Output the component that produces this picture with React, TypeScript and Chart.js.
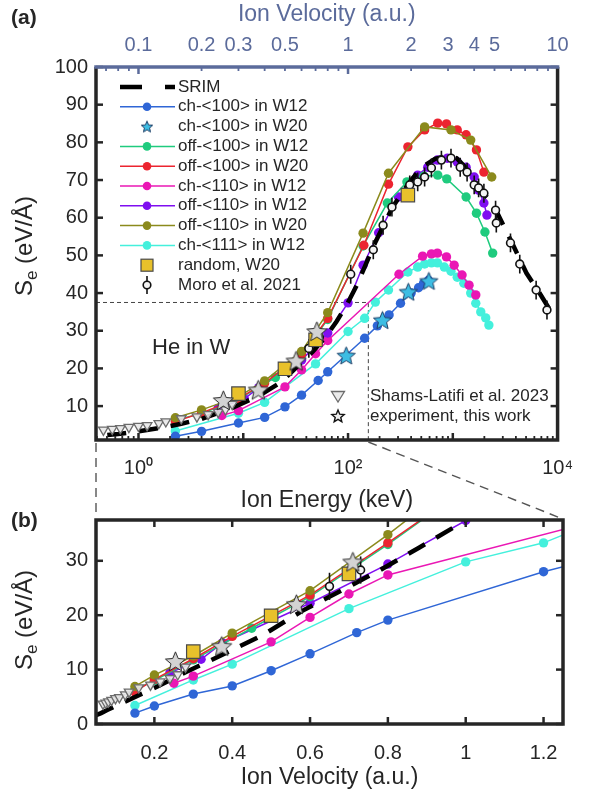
import React, { useEffect, useRef } from 'react';
import { Chart, registerables } from 'chart.js';

Chart.register(...registerables);

const FONT = '"Liberation Sans", Arial, Helvetica, sans-serif';
const INK = '#262626';
const SLATE = '#5b6b9b';

const BLUE = '#2f66d6';
const STAR_CYAN = '#3dbde3';
const GREEN = '#1fcb7e';
const RED = '#ec2430';
const MAGENTA = '#ea17b4';
const PURPLE = '#7f0ef0';
const OLIVE = '#8b8a1c';
const AQUA = '#44f0dc';
const GOLD = '#e8c12b';

// ---- axis limits ----
const V_MIN_A = 0.0627;
const V_MAX_A = 10;
const E_MIN_A = 0.393;
const E_MAX_A = 10000;
const S_MIN_A = 1;
const S_MAX_A = 100;
const V_MIN_B = 0.05;
const V_MAX_B = 1.25;
const S_MIN_B = 0;
const S_MAX_B = 37.5;

// ---- tick labels ----
const TOP_TICKS = [0.1, 0.2, 0.3, 0.5, 1, 2, 3, 4, 5, 10];
const TOP_TICK_LABELS = ['0.1', '0.2', '0.3', '0.5', '1', '2', '3', '4', '5', '10'];
const ENERGY_TICKS = [1, 100, 10000];
const ENERGY_TICK_LABELS = ['10\u2070', '10\u00b2', '10\u2074'];
const Y_A_TICKS = [10, 20, 30, 40, 50, 60, 70, 80, 90, 100];
const Y_B_TICKS = [0, 10, 20, 30];
const X_B_TICKS = [0.2, 0.4, 0.6, 0.8, 1, 1.2];
const X_B_TICK_LABELS = ['0.2', '0.4', '0.6', '0.8', '1', '1.2'];

// ---- data: velocity (a.u.) and stopping Se (eV/Å) ----
const SRIM_V = [0.05, 0.063, 0.08, 0.1, 0.13, 0.16, 0.2, 0.28, 0.38, 0.48, 0.58, 0.68, 0.78, 0.88, 0.98, 1.1, 1.35, 1.63, 2.0, 2.25, 2.6, 3.0, 3.3, 3.6, 4.0, 4.3, 4.9, 5.4, 6.1, 7.1, 8.2, 9.2, 10];
const SRIM_S = [1.6, 2.0, 2.6, 3.3, 4.3, 5.3, 6.6, 9.5, 12.9, 16.4, 20.8, 24.5, 28.3, 32.4, 36.6, 42.0, 53.5, 62.8, 70.0, 73.4, 75.6, 76.5, 75.8, 73.6, 70.2, 67.2, 63.8, 59.0, 53.0, 45.3, 40.0, 35.5, 33.3];

const CH100_W12_V = [0.15, 0.2, 0.3, 0.4, 0.5, 0.6, 0.72, 0.8, 1.2, 1.38, 1.57, 1.78, 2.0, 2.17, 2.29, 2.42];
const CH100_W12_S = [2.0, 3.3, 5.5, 7.0, 9.8, 12.9, 16.8, 19.1, 28.0, 31.3, 34.2, 37.3, 40.0, 41.4, 42.5, 43.4];

const CH100_W20_V = [0.98, 1.46, 1.94, 2.43];
const CH100_W20_S = [23.4, 32.8, 40.3, 43.2];

const OFF100_W12_V = [0.15, 0.2, 0.3, 0.45, 0.6, 0.8, 1.18, 1.54, 1.91, 2.3, 2.68, 2.96, 3.66, 4.1, 4.5, 4.9];
const OFF100_W12_S = [6.3, 8.0, 11.8, 17.6, 23.4, 33.0, 52.5, 63.9, 69.5, 71.0, 71.3, 70.3, 65.5, 61.2, 56.2, 50.6];

const OFF100_W20_V = [0.15, 0.2, 0.3, 0.4, 0.6, 0.8, 1.19, 1.56, 1.93, 2.32, 2.68, 2.95, 3.32, 3.66, 4.1, 4.45];
const OFF100_W20_S = [5.9, 8.2, 12.0, 16.1, 23.7, 33.3, 52.7, 68.9, 78.8, 83.3, 85.1, 84.9, 83.3, 82.0, 78.0, 72.1];

const CH110_W12_V = [0.25, 0.3, 0.5, 0.6, 0.7, 0.8, 1.75, 2.27, 2.5, 2.67, 2.95, 3.21, 3.5, 3.78, 4.07];
const CH110_W12_S = [7.5, 8.8, 15.1, 19.6, 23.9, 27.4, 45.0, 49.8, 50.4, 50.6, 49.6, 47.4, 44.8, 42.1, 39.5];

const OFF110_W12_V = [0.24, 0.32, 0.375, 0.6, 0.8, 1.0, 1.18, 1.4, 1.74, 1.97, 2.15, 2.4, 2.67, 2.98, 3.32, 3.66, 4.0, 4.2, 4.45, 4.6];
const OFF110_W12_S = [9.4, 11.9, 14.9, 22.2, 29.4, 37.4, 47.4, 56.0, 65.5, 69.2, 71.3, 73.4, 75.3, 75.8, 74.8, 73.4, 70.8, 67.3, 63.9, 60.7];

const OFF110_W20_V = [0.15, 0.2, 0.3, 0.4, 0.6, 0.8, 1.18, 1.56, 2.32, 3.1, 3.85, 4.85];
const OFF110_W20_S = [6.9, 9.0, 12.5, 16.7, 24.5, 34.8, 55.9, 71.8, 84.1, 83.3, 80.6, 70.8];

const CH111_W12_V = [0.15, 0.3, 0.4, 0.7, 1.0, 1.2, 1.35, 1.56, 1.93, 2.15, 2.32, 2.5, 2.67, 2.88, 3.1, 3.32, 3.57, 3.85, 4.07, 4.3, 4.54, 4.7];
const CH111_W12_S = [3.4, 8.1, 11.0, 21.2, 29.8, 33.3, 37.6, 40.8, 45.6, 46.9, 47.7, 48.0, 48.0, 46.9, 45.8, 44.2, 42.6, 40.0, 37.3, 35.0, 33.4, 31.5];

const RANDOM_W20_V = [0.3, 0.5, 0.7, 1.93];
const RANDOM_W20_S = [13.3, 19.9, 27.6, 66.0];

const MORO_V = [0.65, 0.73, 1.03, 1.32, 1.47, 1.62, 1.97, 2.15, 2.32, 2.5, 2.79, 3.1, 3.43, 3.7, 4.0, 4.2, 4.45, 5.06, 5.1, 5.96, 6.6, 7.9, 8.9];
const MORO_S = [25.3, 28.3, 45.0, 51.5, 58.0, 62.8, 68.7, 69.5, 70.8, 73.2, 75.3, 75.8, 73.4, 72.1, 68.7, 67.9, 66.5, 62.0, 58.6, 53.3, 47.7, 40.8, 35.5];
const MORO_ERR = [2.5, 2.5, 2.5, 2.5, 2.5, 2.5, 2.5, 2.5, 2.5, 2.5, 2.5, 2.5, 2.5, 2.5, 2.5, 2.5, 2.5, 2.5, 2.5, 2.5, 2.5, 2.5, 2.5];

const SHAMS_V = [0.068, 0.075, 0.082, 0.09, 0.1, 0.11, 0.125, 0.135, 0.16, 0.19, 0.215, 0.24, 0.26, 0.28];
const SHAMS_S = [3.7, 3.9, 4.1, 4.4, 4.7, 4.9, 5.4, 5.9, 6.7, 7.2, 7.8, 8.4, 9.1, 10.5];

const EXP_V = [0.254, 0.373, 0.565, 0.71];
const EXP_S = [11.5, 14.3, 22.0, 29.8];

const LEGEND_LABELS = [
  'SRIM',
  'ch-<100> in W12',
  'ch-<100> in W20',
  'off-<100> in W12',
  'off-<100> in W20',
  'ch-<110> in W12',
  'off-<110> in W12',
  'off-<110> in W20',
  'ch-<111> in W12',
  'random, W20',
  'Moro et al. 2021',
];
const LEGEND2_LABELS = ['Shams-Latifi et al. 2023', 'experiment, this work'];

// ---- helpers ----
const pts = (xs: number[], ys: number[]) => xs.map((x, i) => ({ x, y: ys[i] }));

function makeStar(outer: number, fill: string, stroke: string, lw: number) {
  const size = Math.ceil(outer * 2 + lw * 2 + 2);
  const c = document.createElement('canvas');
  c.width = size;
  c.height = size;
  const ctx = c.getContext('2d')!;
  ctx.translate(size / 2, size / 2 + outer * 0.08);
  ctx.beginPath();
  const inner = outer * 0.45;
  for (let i = 0; i < 10; i++) {
    const r = i % 2 === 0 ? outer : inner;
    const a = -Math.PI / 2 + (i * Math.PI) / 5;
    ctx.lineTo(r * Math.cos(a), r * Math.sin(a));
  }
  ctx.closePath();
  ctx.fillStyle = fill;
  ctx.fill();
  ctx.lineWidth = lw;
  ctx.strokeStyle = stroke;
  ctx.lineJoin = 'miter';
  ctx.stroke();
  return c;
}

function logSteps(min: number, max: number) {
  const out: { v: number; major: boolean }[] = [];
  for (let e = Math.floor(Math.log10(min)); e <= Math.ceil(Math.log10(max)); e++) {
    for (let k = 1; k <= 9; k++) {
      const v = k * Math.pow(10, e);
      if (v >= min * 0.999 && v <= max * 1.001) out.push({ v, major: k === 1 });
    }
  }
  return out;
}

function seg(ctx: CanvasRenderingContext2D, x1: number, y1: number, x2: number, y2: number) {
  ctx.beginPath();
  ctx.moveTo(x1, y1);
  ctx.lineTo(x2, y2);
  ctx.stroke();
}

function drawYTitle(ctx: CanvasRenderingContext2D, cx: number, cy: number) {
  ctx.save();
  ctx.translate(cx, cy);
  ctx.rotate(-Math.PI / 2);
  ctx.fillStyle = INK;
  ctx.textBaseline = 'alphabetic';
  ctx.textAlign = 'left';
  const big = `24px ${FONT}`;
  const small = `17px ${FONT}`;
  ctx.font = big;
  const wS = ctx.measureText('S').width;
  const wRest = ctx.measureText(' (eV/\u00c5)').width;
  ctx.font = small;
  const wE = ctx.measureText('e').width;
  let x = -(wS + wE + wRest) / 2;
  const base = 8;
  ctx.font = big;
  ctx.fillText('S', x, base);
  x += wS;
  ctx.font = small;
  ctx.fillText('e', x, base + 5);
  x += wE;
  ctx.font = big;
  ctx.fillText(' (eV/\u00c5)', x, base);
  ctx.restore();
}

function buildDatasets(xAxisID: string, imgs: any, withW20Stars: boolean) {
  const line = (label: string, xs: number[], ys: number[], color: string, order: number) => ({
    label,
    data: pts(xs, ys),
    xAxisID,
    yAxisID: 'y',
    showLine: true,
    borderColor: color,
    backgroundColor: color,
    borderWidth: 1.5,
    pointRadius: 4.7,
    pointBackgroundColor: color,
    pointBorderColor: color,
    pointBorderWidth: 0,
    clip: 0,
    order,
  });
  const sets: any[] = [
    {
      label: 'experiment, this work',
      data: pts(EXP_V, EXP_S),
      xAxisID,
      yAxisID: 'y',
      showLine: false,
      pointStyle: imgs.starExp,
      pointRadius: 9,
      clip: 0,
      order: 0,
    },
  ];
  if (withW20Stars) {
    sets.push({
      label: 'ch-<100> in W20',
      data: pts(CH100_W20_V, CH100_W20_S),
      xAxisID,
      yAxisID: 'y',
      showLine: false,
      pointStyle: imgs.starCyan,
      pointRadius: 9,
      clip: 0,
      order: 1,
    });
  }
  sets.push(
    {
      label: 'random, W20',
      data: pts(RANDOM_W20_V, RANDOM_W20_S),
      xAxisID,
      yAxisID: 'y',
      showLine: false,
      pointStyle: 'rect',
      pointRadius: 9.5,
      pointBackgroundColor: GOLD,
      pointBorderColor: '#4a4a4a',
      pointBorderWidth: 1.2,
      clip: 0,
      order: 2,
    },
    {
      label: 'Moro et al. 2021',
      data: pts(MORO_V, MORO_S),
      errBars: MORO_ERR,
      xAxisID,
      yAxisID: 'y',
      showLine: false,
      pointStyle: 'circle',
      pointRadius: 3.9,
      pointBackgroundColor: '#f4f4f4',
      pointBorderColor: '#111111',
      pointBorderWidth: 1.6,
      clip: 0,
      order: 3,
    },
    {
      label: 'Shams-Latifi et al. 2023',
      data: pts(SHAMS_V, SHAMS_S),
      xAxisID,
      yAxisID: 'y',
      showLine: false,
      pointStyle: 'triangle',
      pointRotation: 180,
      pointRadius: 5.5,
      pointBackgroundColor: 'rgba(232,232,232,0.9)',
      pointBorderColor: '#6c6c6c',
      pointBorderWidth: 1.3,
      clip: 0,
      order: 4,
    },
    {
      label: 'SRIM',
      data: pts(SRIM_V, SRIM_S),
      xAxisID,
      yAxisID: 'y',
      showLine: true,
      borderColor: '#000000',
      borderWidth: 4.5,
      borderDash: [19, 13],
      borderCapStyle: 'butt',
      pointRadius: 0,
      clip: 0,
      order: 5,
    },
    line('ch-<100> in W12', CH100_W12_V, CH100_W12_S, BLUE, 6),
    line('off-<110> in W20', OFF110_W20_V, OFF110_W20_S, OLIVE, 7),
    line('off-<100> in W20', OFF100_W20_V, OFF100_W20_S, RED, 8),
    line('off-<100> in W12', OFF100_W12_V, OFF100_W12_S, GREEN, 9),
    line('off-<110> in W12', OFF110_W12_V, OFF110_W12_S, PURPLE, 10),
    line('ch-<110> in W12', CH110_W12_V, CH110_W12_S, MAGENTA, 11),
    line('ch-<111> in W12', CH111_W12_V, CH111_W12_S, AQUA, 12),
  );
  return sets;
}

const errBarPlugin = {
  id: 'errBars',
  beforeDatasetDraw(chart: any, args: any) {
    const ds = chart.data.datasets[args.index];
    if (!ds.errBars) return;
    const xs = args.meta.xScale;
    const ys = args.meta.yScale;
    const ca = chart.chartArea;
    const ctx = chart.ctx;
    ctx.save();
    ctx.beginPath();
    ctx.rect(ca.left, ca.top, ca.right - ca.left, ca.bottom - ca.top);
    ctx.clip();
    ctx.strokeStyle = '#111111';
    ctx.lineWidth = 1.6;
    ds.data.forEach((p: any, i: number) => {
      const px = xs.getPixelForValue(p.x);
      seg(ctx, px, ys.getPixelForValue(p.y - ds.errBars[i]), px, ys.getPixelForValue(p.y + ds.errBars[i]));
    });
    ctx.restore();
  },
};

const noGrid = { display: false, drawTicks: false, drawOnChartArea: false };

export default function App() {
  const refA = useRef<HTMLCanvasElement>(null);
  const refB = useRef<HTMLCanvasElement>(null);

  useEffect(() => {
    const imgs = {
      starExp: makeStar(10.5, '#d3d3d3', '#2a2a2a', 1),
      starCyan: makeStar(9.5, STAR_CYAN, '#1d3d66', 1),
    };
    const legStarCyan = makeStar(6, STAR_CYAN, '#1d3d66', 1);
    const legStarExp = makeStar(6.5, '#eeeeee', '#111111', 1.4);

    const tickFont = { family: FONT, size: 20 };
    const titleFont = { family: FONT, size: 23 };

    const panelA = {
      id: 'panelA',
      beforeDatasetsDraw(chart: any) {
        const ctx = chart.ctx;
        const ca = chart.chartArea;
        const px = chart.scales.xv.getPixelForValue(V_MAX_B);
        const py = chart.scales.y.getPixelForValue(S_MAX_B);
        ctx.save();
        ctx.setLineDash([4, 3]);
        ctx.strokeStyle = '#444444';
        ctx.lineWidth = 1;
        ctx.beginPath();
        ctx.moveTo(ca.left, py);
        ctx.lineTo(px, py);
        ctx.lineTo(px, ca.bottom);
        ctx.stroke();
        ctx.restore();
      },
      afterDraw(chart: any) {
        const ctx: CanvasRenderingContext2D = chart.ctx;
        const ca = chart.chartArea;
        const xv = chart.scales.xv;
        const xe = chart.scales.xe;
        const y = chart.scales.y;
        ctx.save();
        ctx.lineCap = 'butt';
        // ticks
        ctx.strokeStyle = INK;
        for (const t of logSteps(E_MIN_A, E_MAX_A)) {
          const p = xe.getPixelForValue(t.v);
          ctx.lineWidth = t.major ? 2.5 : 1.8;
          seg(ctx, p, ca.bottom, p, ca.bottom - (t.major ? 7 : 4));
        }
        ctx.strokeStyle = SLATE;
        for (const t of logSteps(V_MIN_A, V_MAX_A)) {
          const p = xv.getPixelForValue(t.v);
          ctx.lineWidth = t.major ? 2.5 : 1.8;
          seg(ctx, p, ca.top, p, ca.top + (t.major ? 7 : 4));
        }
        ctx.strokeStyle = INK;
        ctx.lineWidth = 2.5;
        for (const t of Y_A_TICKS) {
          const p = y.getPixelForValue(t);
          seg(ctx, ca.left, p, ca.left + 7, p);
          seg(ctx, ca.right, p, ca.right - 7, p);
        }
        // box
        ctx.lineWidth = 3.5;
        ctx.strokeStyle = INK;
        ctx.beginPath();
        ctx.moveTo(ca.left, ca.top);
        ctx.lineTo(ca.left, ca.bottom);
        ctx.lineTo(ca.right, ca.bottom);
        ctx.lineTo(ca.right, ca.top);
        ctx.stroke();
        ctx.strokeStyle = SLATE;
        seg(ctx, ca.left - 1.75, ca.top, ca.right + 1.75, ca.top);

        // titles
        drawYTitle(ctx, 24, 246);
        ctx.fillStyle = INK;
        ctx.font = `bold 21px ${FONT}`;
        ctx.textAlign = 'left';
        ctx.textBaseline = 'middle';
        ctx.fillText('(a)', 11, 18);

        // legend
        const LX1 = 120, LX2 = 175, LMX = 147, LTX = 178, LY0 = 87, LDY = 19.8;
        const rowColors = [null, BLUE, null, GREEN, RED, MAGENTA, PURPLE, OLIVE, AQUA];
        LEGEND_LABELS.forEach((lab, i) => {
          const ly = LY0 + i * LDY;
          if (i === 0) {
            ctx.save();
            ctx.setLineDash([22, 23]);
            ctx.strokeStyle = '#000';
            ctx.lineWidth = 4.5;
            seg(ctx, LX1, ly, LX2, ly);
            ctx.restore();
          } else if (i === 2) {
            ctx.drawImage(legStarCyan, LMX - legStarCyan.width / 2, ly - legStarCyan.height / 2);
          } else if (i === 9) {
            ctx.fillStyle = GOLD;
            ctx.strokeStyle = '#4a4a4a';
            ctx.lineWidth = 1.2;
            ctx.fillRect(LMX - 6, ly - 6, 12, 12);
            ctx.strokeRect(LMX - 6, ly - 6, 12, 12);
          } else if (i === 10) {
            ctx.strokeStyle = '#111';
            ctx.lineWidth = 1.6;
            seg(ctx, LMX, ly - 9, LMX, ly + 9);
            ctx.beginPath();
            ctx.arc(LMX, ly, 3.8, 0, Math.PI * 2);
            ctx.fillStyle = '#f4f4f4';
            ctx.fill();
            ctx.stroke();
          } else {
            const c = rowColors[i] as string;
            ctx.strokeStyle = c;
            ctx.lineWidth = 1.5;
            seg(ctx, LX1, ly, LX2, ly);
            ctx.beginPath();
            ctx.arc(LMX, ly, 4.3, 0, Math.PI * 2);
            ctx.fillStyle = c;
            ctx.fill();
          }
          ctx.fillStyle = INK;
          ctx.font = `17px ${FONT}`;
          ctx.textAlign = 'left';
          ctx.textBaseline = 'middle';
          ctx.fillText(lab, LTX, ly);
        });

        // second legend
        const L2X = 338, L2T = 370, L2Y = [396, 416];
        ctx.beginPath();
        ctx.moveTo(L2X - 6.5, L2Y[0] - 4.5);
        ctx.lineTo(L2X + 6.5, L2Y[0] - 4.5);
        ctx.lineTo(L2X, L2Y[0] + 6);
        ctx.closePath();
        ctx.fillStyle = 'rgba(232,232,232,0.9)';
        ctx.fill();
        ctx.strokeStyle = '#6c6c6c';
        ctx.lineWidth = 1.3;
        ctx.stroke();
        ctx.drawImage(legStarExp, L2X - legStarExp.width / 2, L2Y[1] - legStarExp.height / 2);
        ctx.fillStyle = INK;
        ctx.font = `17px ${FONT}`;
        ctx.fillText(LEGEND2_LABELS[0], L2T, L2Y[0]);
        ctx.fillText(LEGEND2_LABELS[1], L2T, L2Y[1]);

        // annotation
        ctx.font = `22px ${FONT}`;
        ctx.fillText('He in W', 152, 348);
        ctx.restore();
      },
    };

    const chartA = new Chart(refA.current as HTMLCanvasElement, {
      type: 'scatter',
      data: { datasets: buildDatasets('xv', imgs, true) as any },
      options: {
        responsive: false,
        animation: false,
        devicePixelRatio: 1,
        events: [],
        layout: { padding: { left: 0, right: 26, top: 1, bottom: 275 } },
        plugins: { legend: { display: false }, tooltip: { enabled: false } },
        scales: {
          xv: {
            type: 'logarithmic',
            axis: 'x',
            position: 'top',
            min: V_MIN_A,
            max: V_MAX_A,
            afterBuildTicks: (s: any) => {
              s.ticks = TOP_TICKS.map((v) => ({ value: v }));
            },
            afterFit: (s: any) => {
              s.height = 66;
            },
            grid: noGrid,
            border: { display: false },
            ticks: {
              color: SLATE,
              font: tickFont,
              padding: 10,
              autoSkip: false,
              maxRotation: 0,
              callback: (v: any) => TOP_TICK_LABELS[TOP_TICKS.indexOf(Number(v))] ?? '',
            },
            title: { display: true, text: 'Ion Velocity (a.u.)', color: SLATE, font: titleFont, padding: 0 },
          },
          xe: {
            type: 'logarithmic',
            axis: 'x',
            position: 'bottom',
            min: E_MIN_A,
            max: E_MAX_A,
            afterBuildTicks: (s: any) => {
              s.ticks = ENERGY_TICKS.map((v) => ({ value: v }));
            },
            afterFit: (s: any) => {
              s.height = 74;
            },
            grid: noGrid,
            border: { display: false },
            ticks: {
              color: INK,
              font: tickFont,
              padding: 16,
              autoSkip: false,
              maxRotation: 0,
              callback: (v: any) => ENERGY_TICK_LABELS[ENERGY_TICKS.indexOf(Number(v))] ?? '',
            },
            title: { display: true, text: 'Ion Energy (keV)', color: INK, font: titleFont, padding: 0 },
          },
          y: {
            type: 'linear',
            position: 'left',
            min: S_MIN_A,
            max: S_MAX_A,
            afterBuildTicks: (s: any) => {
              s.ticks = Y_A_TICKS.map((v) => ({ value: v }));
            },
            afterFit: (s: any) => {
              s.width = 96;
            },
            grid: noGrid,
            border: { display: false },
            ticks: { color: INK, font: tickFont, padding: 8, autoSkip: false, callback: (v: any) => String(v) },
          },
        },
      } as any,
      plugins: [errBarPlugin, panelA],
    });

    const panelB = {
      id: 'panelB',
      afterDraw(chart: any) {
        const ctx: CanvasRenderingContext2D = chart.ctx;
        const ca = chart.chartArea;
        const x = chart.scales.x;
        const y = chart.scales.y;
        ctx.save();
        ctx.lineCap = 'butt';
        ctx.strokeStyle = INK;
        ctx.lineWidth = 2.5;
        for (const t of X_B_TICKS) {
          const p = x.getPixelForValue(t);
          seg(ctx, p, ca.bottom, p, ca.bottom - 7);
          seg(ctx, p, ca.top, p, ca.top + 7);
        }
        for (const t of Y_B_TICKS) {
          const p = y.getPixelForValue(t);
          seg(ctx, ca.left, p, ca.left + 7, p);
          seg(ctx, ca.right, p, ca.right - 7, p);
        }
        ctx.lineWidth = 3.5;
        ctx.strokeRect(ca.left, ca.top, ca.right - ca.left, ca.bottom - ca.top);

        drawYTitle(ctx, 24, 620);
        ctx.fillStyle = INK;
        ctx.font = `bold 21px ${FONT}`;
        ctx.textAlign = 'left';
        ctx.textBaseline = 'middle';
        ctx.fillText('(b)', 11, 521);

        // connectors from panel (a)
        const a: any = chartA;
        if (a && a.chartArea) {
          const aca = a.chartArea;
          const pxa = a.scales.xv.getPixelForValue(V_MAX_B);
          ctx.setLineDash([9, 6]);
          ctx.strokeStyle = '#555555';
          ctx.lineWidth = 1.4;
          seg(ctx, aca.left, aca.bottom + 3, ca.left, ca.top - 2);
          seg(ctx, pxa, aca.bottom + 2, ca.right, ca.top - 1);
        }
        ctx.restore();
      },
    };

    const chartB = new Chart(refB.current as HTMLCanvasElement, {
      type: 'scatter',
      data: { datasets: buildDatasets('x', imgs, false) as any },
      options: {
        responsive: false,
        animation: false,
        devicePixelRatio: 1,
        events: [],
        layout: { padding: { left: 0, right: 26, top: 520, bottom: 0 } },
        plugins: { legend: { display: false }, tooltip: { enabled: false } },
        scales: {
          x: {
            type: 'linear',
            position: 'bottom',
            min: V_MIN_B,
            max: V_MAX_B,
            afterBuildTicks: (s: any) => {
              s.ticks = X_B_TICKS.map((v) => ({ value: v }));
            },
            afterFit: (s: any) => {
              s.height = 65;
            },
            grid: noGrid,
            border: { display: false },
            ticks: {
              color: INK,
              font: tickFont,
              padding: 17,
              autoSkip: false,
              maxRotation: 0,
              callback: (v: any) => X_B_TICK_LABELS[X_B_TICKS.indexOf(Number(v))] ?? '',
            },
            title: {
              display: true,
              text: 'Ion Velocity (a.u.)',
              color: INK,
              font: { family: FONT, size: 23, lineHeight: 1.0 },
              padding: 0,
            },
          },
          y: {
            type: 'linear',
            position: 'left',
            min: S_MIN_B,
            max: S_MAX_B,
            afterBuildTicks: (s: any) => {
              s.ticks = Y_B_TICKS.map((v) => ({ value: v }));
            },
            afterFit: (s: any) => {
              s.width = 96;
            },
            grid: noGrid,
            border: { display: false },
            ticks: { color: INK, font: tickFont, padding: 8, autoSkip: false, callback: (v: any) => String(v) },
          },
        },
      } as any,
      plugins: [errBarPlugin, panelB],
    });

    return () => {
      chartB.destroy();
      chartA.destroy();
    };
  }, []);

  return (
    <div style={{ position: 'absolute', left: 0, top: 0, width: 589, height: 789, background: '#ffffff', overflow: 'hidden' }}>
      <canvas ref={refA} width={589} height={789} style={{ position: 'absolute', left: 0, top: 0 }} />
      <canvas ref={refB} width={589} height={789} style={{ position: 'absolute', left: 0, top: 0 }} />
    </div>
  );
}
